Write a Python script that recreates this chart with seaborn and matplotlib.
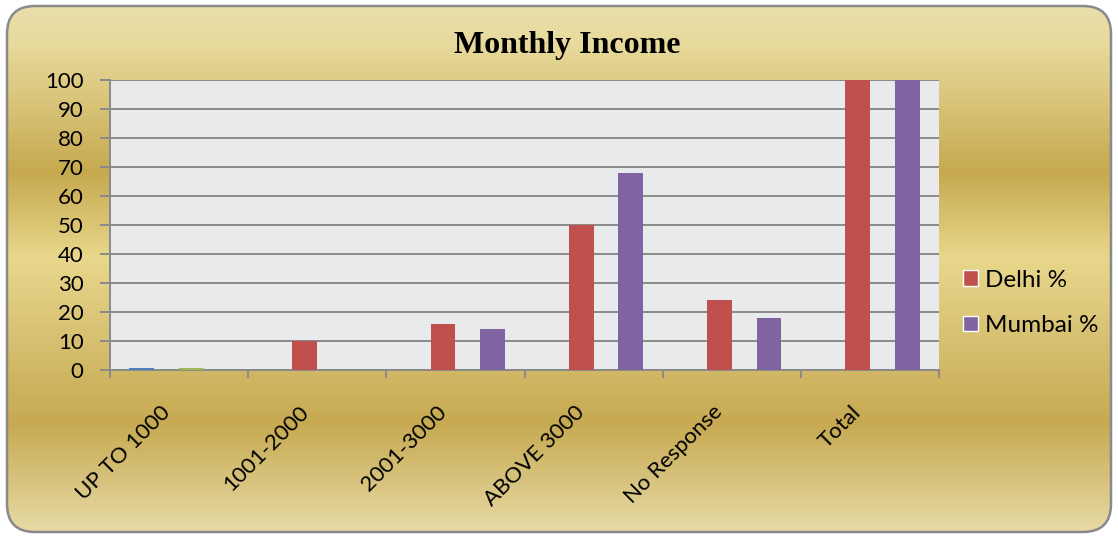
import numpy as np
import pandas as pd
import matplotlib
matplotlib.use("Agg")
import matplotlib.pyplot as plt
import seaborn as sns
from matplotlib.patches import FancyBboxPatch, Patch
from matplotlib.colors import LinearSegmentedColormap
from matplotlib.transforms import ScaledTranslation

# data
categories = ['UP TO 1000', '1001-2000', '2001-3000', 'ABOVE 3000', 'No Response', 'Total']
series_names = ['Series1', 'Delhi %', 'Series3', 'Mumbai %']
series1 = [0.8, 0, 0, 0, 0, 0]
delhi = [0, 10, 16, 50, 24, 100]
series3 = [0.8, 0, 0, 0, 0, 0]
mumbai = [0, 0, 14, 68, 18, 100]
colors = ['#4F81BD', '#C0504D', '#9BBB59', '#8064A2']

rows = []
for name, vals in zip(series_names, [series1, delhi, series3, mumbai]):
    for c, v in zip(categories, vals):
        rows.append({'category': c, 'series': name, 'value': v})
df = pd.DataFrame(rows)

sns.set_style('white')
plt.rcParams['font.family'] = ['Lato', 'DejaVu Sans']
plt.rcParams['text.color'] = 'black'
plt.rcParams['xtick.color'] = 'black'
plt.rcParams['ytick.color'] = 'black'

fig = plt.figure(figsize=(11.18, 5.37), dpi=100)
fig.patch.set_facecolor('white')

# gold gradient background inside a rounded frame
bg = fig.add_axes([0, 0, 1, 1], zorder=0)
bg.set_xlim(0, 1118)
bg.set_ylim(537, 0)
bg.axis('off')
stops = [(0.0, '#E9DFAD'), (0.08, '#E8DA9C'), (0.32, '#C6A94F'), (0.48, '#E8D78C'),
         (0.62, '#D8C274'), (0.79, '#C7AA52'), (1.0, '#E8DCA8')]
cmap = LinearSegmentedColormap.from_list('gold', stops)
grad = np.linspace(0, 1, 537).reshape(-1, 1)
im = bg.imshow(grad, cmap=cmap, aspect='auto', extent=(0, 1118, 537, 0))
frame = FancyBboxPatch((7, 6), 1104, 526, boxstyle='round,pad=0,rounding_size=28',
                       facecolor='none', edgecolor='#8A8A8A', linewidth=1.8)
bg.add_patch(frame)
im.set_clip_path(frame)

ax = fig.add_axes([110/1118, 1-370/537, (939-110)/1118, (370-80)/537], zorder=1)
ax.set_facecolor('#E9EAEC')

sns.barplot(data=df, x='category', y='value', hue='series', hue_order=series_names,
            palette=colors, width=0.72, saturation=1, dodge=True, legend=False,
            linewidth=0, ax=ax, zorder=3)

ax.set_ylim(0, 100)
ax.set_xlim(-0.5, 5.5)
ax.set_yticks(range(0, 101, 10))
ax.yaxis.grid(True, color='#8A8A8A', linewidth=1.4, zorder=1)
ax.set_axisbelow(True)
ax.set_xlabel('')
ax.set_ylabel('')

for s in ['top', 'right']:
    ax.spines[s].set_visible(False)
for s in ['left', 'bottom']:
    ax.spines[s].set_color('#8A8A8A')
    ax.spines[s].set_linewidth(1.4)

ax.tick_params(axis='y', left=True, length=7, width=1.4, color='#8A8A8A',
               labelsize=16, pad=12, labelcolor='black')
ax.set_xticks(np.arange(-0.5, 6, 1), minor=True)
ax.tick_params(axis='x', which='minor', bottom=True, length=6, width=1.4, color='#8A8A8A')
ax.tick_params(axis='x', which='major', bottom=False, length=0, labelsize=16, pad=28,
               labelcolor='black')
ax.set_xticks(range(len(categories)))
ax.set_xticklabels(categories, rotation=45, ha='right', va='center', rotation_mode='anchor')
for lab in ax.get_xticklabels():
    lab.set_transform(lab.get_transform() + ScaledTranslation(-0.12, 0, fig.dpi_scale_trans))

fig.text(567/1118, 1-46/537, 'Monthly Income', ha='center', va='center', color='black',
         fontsize=23, fontweight='bold', family='Liberation Serif')

handles = [Patch(facecolor=colors[1]), Patch(facecolor=colors[3])]
fig.legend(handles, ['Delhi %', 'Mumbai %'], loc='center left',
           bbox_to_anchor=(941/1118, 1-303/537), frameon=False, fontsize=17.5,
           handlelength=0.62, handleheight=0.62, handletextpad=0.3, labelspacing=1.0)

fig.savefig('out.png', dpi=100)
